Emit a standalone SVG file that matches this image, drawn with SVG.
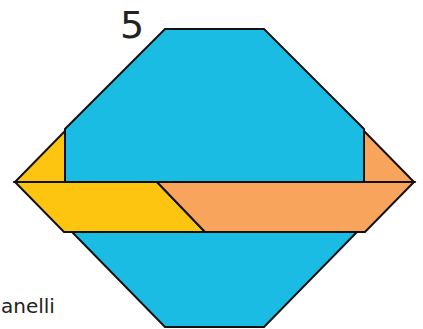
<svg xmlns="http://www.w3.org/2000/svg" width="423" height="329" viewBox="0 0 423 329">
<style>
.p{stroke:#111;stroke-width:2;stroke-linejoin:miter}
.b{fill:#1BBCE3}
.y{fill:#FDC50F}
.o{fill:#F9A45D}
.t{font-family:"DejaVu Sans",sans-serif;fill:#222}
</style>
<rect width="423" height="329" fill="#fff"/>
<g id="blue-top"><polygon class="p b" points="165,29 264,29 364,129 364,182 65,182 65,129"/></g>
<g id="blue-bottom"><polygon class="p b" points="72,232 357,232 264,327 165,327"/></g>
<g id="yellow-triangle"><polygon class="p y" points="15,182 65,131 65,182"/></g>
<g id="orange-triangle"><polygon class="p o" points="364,131 414,182 364,182"/></g>
<g id="yellow-parallelogram"><polygon class="p y" points="15,182 157,182 205,232 64,232"/></g>
<g id="orange-trapezoid"><polygon class="p o" points="157,182 414,182 365,232 205,232"/></g>
<g id="connectors"></g>
<text class="t" x="120" y="38" font-size="38">5</text>
<text class="t" x="1" y="313" font-size="20">anelli</text>
</svg>
